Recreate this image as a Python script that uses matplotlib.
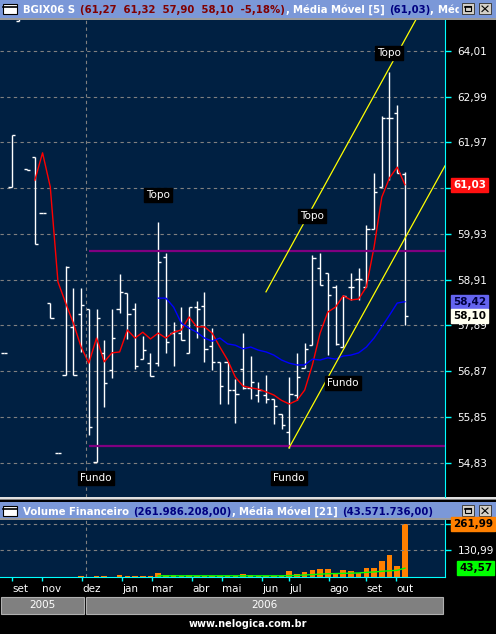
import numpy as np
import matplotlib
matplotlib.use("Agg")
import matplotlib.pyplot as plt
from matplotlib.patches import Rectangle
from matplotlib.transforms import blended_transform_factory

# weekly bars (index = week number on the chart)
weeks = list(range(53))
opens = [57.28, 60.98, 64.68, 61.38, 61.65, 60.40, 58.39, 55.05, 56.79, 57.86,
         58.15, 58.26, 54.85, 57.28, 56.90, 58.26, 58.61, 58.26, 57.14, 57.05,
         57.05, 59.42, 57.72, 57.72, 57.28, 58.30, 58.32, 57.43, 57.08, 57.08,
         56.45, 56.92, 56.50, 56.34, 56.34, 56.24, 55.92, 55.51, 56.34, 56.94,
         57.45, 59.17, 59.06, 58.75, 57.41, 58.75, 58.93, 58.75, 60.04, 60.98,
         62.52, 62.63, 61.27]
highs = [57.28, 62.14, 65.30, 61.38, 61.65, 60.40, 58.39, 55.05, 59.22, 58.73,
         58.73, 58.26, 58.26, 57.57, 58.26, 59.04, 58.61, 58.39, 57.66, 57.28,
         60.20, 59.51, 57.97, 58.30, 58.30, 58.43, 58.64, 57.83, 57.08, 57.08,
         56.70, 57.72, 57.21, 56.63, 56.79, 56.24, 55.92, 56.74, 57.28, 57.50,
         59.46, 59.51, 59.06, 58.79, 58.57, 59.06, 59.17, 60.13, 61.29, 62.56,
         63.54, 62.81, 61.32]
lows = [57.28, 60.98, 64.68, 61.36, 59.71, 60.40, 58.06, 55.05, 56.79, 56.79,
        57.30, 55.45, 54.85, 56.07, 56.72, 58.17, 57.59, 56.92, 57.14, 56.76,
        56.99, 57.28, 56.99, 57.57, 57.28, 57.61, 57.08, 56.90, 56.14, 56.14,
        55.72, 56.47, 56.24, 56.18, 56.16, 55.69, 55.58, 55.16, 56.22, 56.94,
        57.45, 58.79, 57.23, 57.45, 57.41, 58.46, 58.46, 58.75, 60.04, 60.98,
        61.13, 61.29, 57.90]
closes = [57.28, 62.14, 65.00, 61.36, 59.71, 60.40, 58.06, 55.05, 59.20, 56.79,
          58.35, 55.63, 58.06, 56.61, 57.61, 58.64, 58.15, 56.99, 57.34, 56.76,
          59.31, 57.52, 57.77, 57.57, 58.30, 58.26, 57.37, 57.08, 56.54, 56.45,
          56.36, 56.50, 56.63, 56.45, 56.24, 56.09, 55.67, 56.36, 56.74, 57.37,
          59.39, 58.79, 58.57, 57.48, 58.55, 58.75, 58.93, 60.04, 60.87, 62.52,
          62.52, 61.29, 58.10]

nan = np.nan
ma5 = [nan] * 4 + [61.13, 61.74, 60.98, 58.86, 58.39, 57.94, 57.41, 57.05, 57.61,
                   57.08, 57.28, 57.30, 57.79, 57.61, 57.74, 57.59, 57.72, 57.61,
                   57.74, 57.79, 58.08, 57.86, 57.86, 57.72, 57.41, 57.12, 56.74,
                   56.54, 56.50, 56.47, 56.41, 56.34, 56.22, 56.14, 56.22, 56.45,
                   57.01, 57.72, 58.19, 58.30, 58.55, 58.46, 58.48, 58.75, 59.64,
                   60.75, 61.18, 61.42, 61.03]
ma21 = [nan] * 20 + [58.50, 58.50, 58.30, 57.94, 57.83, 57.74, 57.61, 57.54, 57.61,
                     57.48, 57.45, 57.37, 57.41, 57.34, 57.30, 57.23, 57.12, 57.05,
                     57.01, 57.01, 57.14, 57.12, 57.17, 57.14, 57.21, 57.23, 57.28,
                     57.41, 57.61, 57.86, 58.12, 58.39, 58.42]

# volume in millions
volume = [0] * 10 + [6, 0, 6, 6, 0, 12, 6, 6, 6, 6,
                     21, 11, 11, 3, 11, 3, 3, 3, 3, 3,
                     3, 16, 11, 3, 3, 3, 3, 31, 16, 26,
                     36, 41, 41, 21, 36, 31, 21, 46, 46, 77,
                     110, 56, 261.99]
vol_ma = [nan] * 20 + [6] * 17 + [7, 8, 10, 12, 14, 16, 17, 18, 19, 20,
                                  23, 25, 28, 31, 33, 43.57]

price_ticks = [54.83, 55.85, 56.87, 57.89, 58.91, 59.93, 60.95, 61.97, 62.99, 64.01]
month_pos = [1.04, 4.93, 10.12, 15.30, 19.20, 24.38, 28.27, 33.46, 36.96, 42.15, 46.95, 50.84]
month_labels = ["set", "nov", "dez", "jan", "mar", "abr", "mai", "jun", "jul", "ago", "set", "out"]
year_split = 10.63

support_levels = [59.56, 55.20]
channel_top = ([33.98, 53.4], [58.64, 64.70])
channel_bottom = ([36.96, 57.2], [55.16, 61.45])
notes = [("Topo", 19.97, 60.80), ("Topo", 39.95, 60.33), ("Topo", 49.94, 63.97),
         ("Fundo", 43.97, 56.61), ("Fundo", 11.93, 54.49), ("Fundo", 36.96, 54.49)]

NAVY = "#002042"
CYAN = "#00ffff"
TITLE = "#7b98d8"
GRID = "#808080"

W, H = 496, 634
fig = plt.figure(figsize=(W / 100, H / 100), dpi=100, facecolor="black")


def frac(x0, y0, x1, y1):
    return [x0 / W, 1 - y1 / H, (x1 - x0) / W, (y1 - y0) / H]


# window chrome drawn in pixel coordinates
ui = fig.add_axes([0, 0, 1, 1], zorder=0)
ui.set_xlim(0, W)
ui.set_ylim(H, 0)
ui.axis("off")


def title_bar(y0, y1):
    ui.add_patch(Rectangle((0, y0), W, y1 - y0, fc=TITLE, ec="none"))
    ui.add_patch(Rectangle((0, y1), W, 2, fc="#9a9a9a", ec="none"))
    # window icon
    ui.add_patch(Rectangle((3, y0 + 4), 14, 10, fc="white", ec="black", lw=0.8))
    ui.plot([3, 17], [y0 + 6.5, y0 + 6.5], color="black", lw=1.2)
    # buttons
    for bx in (462, 479):
        ui.add_patch(Rectangle((bx, y0 + 3), 12, 11, fc="#d4d0c8", ec="#404040", lw=0.7))
    ui.add_patch(Rectangle((465, y0 + 6), 6, 5, fc="none", ec="black", lw=0.8))
    ui.plot([465, 471], [y0 + 6.5, y0 + 6.5], color="black", lw=1.2)
    ui.plot([482, 488], [y0 + 6, y0 + 11.5], color="black", lw=0.8)
    ui.plot([482, 488], [y0 + 11.5, y0 + 6], color="black", lw=0.8)


title_bar(0, 17.5)
title_bar(502, 518)
ui.add_patch(Rectangle((0, 497), W, 1.5, fc="#e0e0e0", ec="none"))
ui.add_patch(Rectangle((0, 498.5), W, 1.5, fc="#808080", ec="none"))

# year band
for x0, x1, label in [(1, 84, "2005"), (86, 443, "2006")]:
    ui.add_patch(Rectangle((x0, 597), x1 - x0, 17, fc="#808080", ec="#b0b0b0", lw=0.8))
    ui.text((x0 + x1) / 2, 605.5, label, color="white", fontsize=7.5, ha="center", va="center")
ui.text(248, 624, "www.nelogica.com.br", color="white", fontsize=7, fontweight="bold",
        ha="center", va="center")

# price panel
ax = fig.add_axes(frac(0, 20, 445, 497), zorder=1, facecolor=NAVY)
ax.set_xlim(-0.52, 57.2)
ax.set_ylim(54.066, 64.701)
w = np.array(weeks)
ax.vlines(w, lows, highs, color="white", lw=1)
ax.hlines(opens, w - 0.42, w, color="white", lw=1)
ax.hlines(closes, w, w + 0.42, color="white", lw=1)
ax.plot(w, ma5, color="#ff0000", lw=1)
ax.plot(w, ma21, color="#0000ff", lw=1)
ax.hlines(support_levels, 11.02, 57.2, color="#800080", lw=1.6)
ax.plot(*channel_top, color="#ffff00", lw=0.9)
ax.plot(*channel_bottom, color="#ffff00", lw=0.9)
for txt, xi, yi in notes:
    ax.text(xi, yi, txt, color="white", fontsize=7.5, ha="center", va="center", zorder=5,
            bbox=dict(boxstyle="square,pad=0.2", fc="black", ec="black"))

ax.set_yticks(price_ticks)
ax.set_yticklabels([f"{p:.2f}".replace(".", ",") for p in price_ticks])
ax.yaxis.tick_right()
ax.tick_params(axis="y", colors=CYAN, labelcolor="white", length=4, width=1, pad=5, labelsize=7.5)
ax.tick_params(axis="x", bottom=False, labelbottom=False)
ax.yaxis.grid(True, color=GRID, lw=0.8, ls=(0, (3, 3)))
ax.axvline(year_split, color=GRID, lw=0.8, ls=(0, (3, 3)))
for side in ("left", "top", "bottom"):
    ax.spines[side].set_visible(False)
ax.spines["right"].set_color(CYAN)

tr = blended_transform_factory(ax.transAxes, ax.transData)
for val, fc, tc in [(61.03, "#ff1010", "white"), (58.42, "#6464f0", "#000040"),
                    (58.10, "#fffff0", "black")]:
    ax.text(453 / 445, val, f"{val:.2f}".replace(".", ","), transform=tr, color=tc,
            fontsize=7.5, fontweight="bold", ha="left", va="center", clip_on=False, zorder=6,
            bbox=dict(boxstyle="square,pad=0.2", fc=fc, ec=fc))

# volume panel
axv = fig.add_axes(frac(0, 519.5, 445, 577), zorder=1, facecolor=NAVY)
axv.set_xlim(-0.52, 57.2)
axv.set_ylim(0, 284.2)
axv.bar(w, volume, width=0.72, color="#ff8000")
axv.plot(w, vol_ma, color="#00ff00", lw=1)
axv.axvline(year_split, color=GRID, lw=0.8, ls=(0, (3, 3)))
axv.set_yticks([130.99, 261.99])
axv.set_yticklabels(["130,99", ""])
axv.yaxis.tick_right()
axv.yaxis.grid(True, color=GRID, lw=0.8, ls=(0, (3, 3)))
axv.tick_params(axis="y", colors=CYAN, labelcolor="white", length=4, width=1, pad=5, labelsize=7.5)
axv.set_xticks(month_pos)
axv.set_xticklabels(month_labels)
axv.tick_params(axis="x", colors=CYAN, labelcolor="white", length=3, width=1, pad=2, labelsize=7.5)
for lbl in axv.get_xticklabels():
    lbl.set_ha("left")
for side in ("left", "top"):
    axv.spines[side].set_visible(False)
axv.spines["right"].set_color(CYAN)
axv.spines["bottom"].set_color(CYAN)
trv = blended_transform_factory(axv.transAxes, axv.transData)
for val, fc, xoff in [(261.99, "#ff8000", 453), (43.57, "#00ff00", 459)]:
    axv.text(xoff / 445, val, f"{val:.2f}".replace(".", ","), transform=trv, color="black",
             fontsize=7.5, fontweight="bold", ha="left", va="center", clip_on=False, zorder=6,
             bbox=dict(boxstyle="square,pad=0.2", fc=fc, ec=fc))

# title texts, clipped before the buttons
renderer = fig.canvas.get_renderer()


def header(y0, pieces):
    tax = fig.add_axes(frac(0, y0, 459, y0 + 17), zorder=2)
    tax.set_xlim(0, 459)
    tax.set_ylim(17, 0)
    tax.axis("off")
    x = 23
    for s, c, gap in pieces:
        t = tax.text(x, 13, s, color=c, fontsize=7.3, fontweight="bold", ha="left",
                     va="baseline", clip_on=True)
        x += t.get_window_extent(renderer=renderer).width + gap


header(0, [("BGIX06 S", "white", 5), ("(61,27  61,32  57,90  58,10  -5,18%)", "#800000", 0),
           (",", "white", 4), ("Média Móvel [5]", "white", 4), ("(61,03)", "#000080", 0),
           (",", "white", 4), ("Média Móvel [21]", "white", 4), ("(58,42)", "#000080", 0)])
header(502, [("Volume Financeiro", "white", 4), ("(261.986.208,00)", "#000080", 0),
             (",", "white", 4), ("Média Móvel [21]", "white", 4),
             ("(43.571.736,00)", "#000080", 0)])

fig.savefig("out.png", dpi=100, facecolor="black")
